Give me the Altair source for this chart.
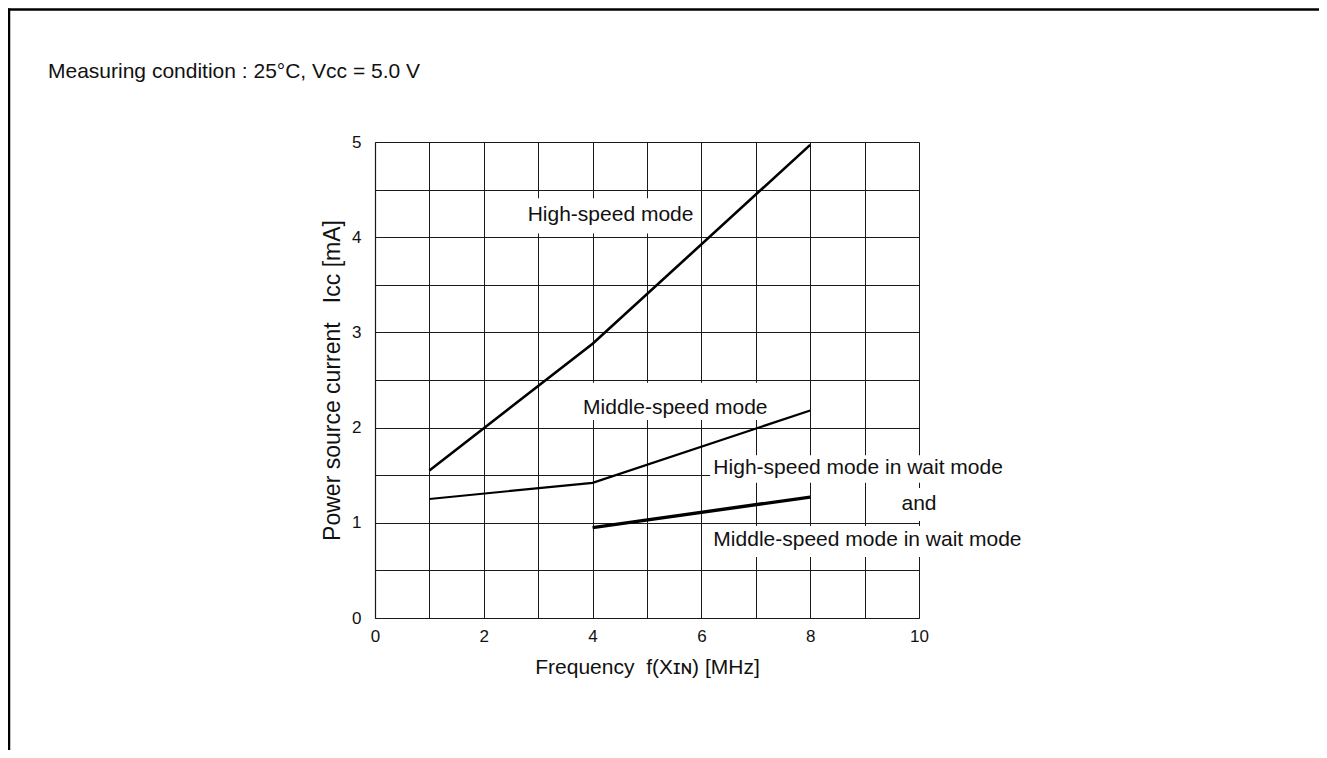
import altair as alt
import pandas as pd

# ---- data ----
hs_x = [1, 4, 8]
hs_y = [1.55, 2.88, 4.97]          # High-speed mode
ms_x = [1, 4, 8]
ms_y = [1.25, 1.42, 2.18]          # Middle-speed mode
wm_x = [4, 8]
wm_y = [0.95, 1.27]                # High/Middle-speed mode in wait mode

x_ticks = list(range(0, 11))
y_ticks = [i * 0.5 for i in range(11)]

label_text = ["High-speed mode", "Middle-speed mode", "High-speed mode in wait mode",
              "and", "Middle-speed mode in wait mode"]
label_x = [4.33, 5.52, 6.22, 10.0, 6.22]
label_y = [4.23, 2.21, 1.575, 1.20, 0.82]
label_align = ["center", "center", "left", "center", "left"]
# white boxes behind the labels (they interrupt the grid in the reference)
box_x1 = [2.76, 3.71, 6.16, 9.60, 6.16]
box_x2 = [5.92, 7.30, 11.67, 10.42, 12.04]
box_y1 = [4.41, 2.47, 1.71, 1.366, 0.966]
box_y2 = [4.04, 2.08, 1.42, 1.02, 0.64]

FONT = "Liberation Sans"
NB = "\u00a0"

lines_df = pd.concat([
    pd.DataFrame({"f": hs_x, "i": hs_y, "s": "High-speed mode"}),
    pd.DataFrame({"f": ms_x, "i": ms_y, "s": "Middle-speed mode"}),
    pd.DataFrame({"f": wm_x, "i": wm_y, "s": "Wait mode"}),
])
labels_df = pd.DataFrame({"t": label_text, "x": label_x, "y": label_y, "a": label_align})
boxes_df = pd.DataFrame({"x1": box_x1, "x2": box_x2, "y1": box_y1, "y2": box_y2})

xscale = alt.Scale(domain=[0, 10], nice=False, zero=False)
yscale = alt.Scale(domain=[0, 5], nice=False, zero=False)

xaxis = alt.Axis(values=x_ticks,
                 labelExpr="datum.value % 2 == 0 ? format(datum.value, 'd') : ''",
                 grid=True, gridColor="#1a1a1a", gridWidth=1, gridOpacity=1,
                 ticks=False, domain=True, domainColor="#1a1a1a", domainWidth=1.2,
                 labelFont=FONT, labelFontSize=17, labelColor="#111", labelPadding=10,
                 labelFlush=False, title="Frequency" + NB + NB + "f(Xɪɴ) [MHz]", titleFont=FONT,
                 titleFontSize=21, titleFontWeight="normal", titleColor="#111", titlePadding=12)
yaxis = alt.Axis(values=y_ticks,
                 labelExpr="datum.value % 1 == 0 ? format(datum.value, 'd') : ''",
                 grid=True, gridColor="#1a1a1a", gridWidth=1, gridOpacity=1,
                 ticks=False, domain=True, domainColor="#1a1a1a", domainWidth=1.2,
                 labelFont=FONT, labelFontSize=17, labelColor="#111", labelPadding=14,
                 labelFlush=False,
                 title="Power source current" + NB + NB + NB + "Icc [mA]", titleFont=FONT,
                 titleFontSize=23, titleFontWeight="normal", titleColor="#111", titlePadding=7)

base_lines = alt.Chart(lines_df)


def line_layer(series, width):
    return base_lines.transform_filter(alt.datum.s == series).mark_line(
        color="#000", strokeWidth=width, strokeCap="butt").encode(
        x=alt.X("f:Q", scale=xscale, axis=xaxis),
        y=alt.Y("i:Q", scale=yscale, axis=yaxis),
        order="f:Q",
    )


boxes = alt.Chart(boxes_df).mark_rect(color="white", opacity=1).encode(
    x=alt.X("x1:Q", scale=xscale, axis=xaxis), x2="x2:Q",
    y=alt.Y("y1:Q", scale=yscale, axis=yaxis), y2="y2:Q",
)

text_layers = []
for al in ["center", "left"]:
    text_layers.append(
        alt.Chart(labels_df).transform_filter(alt.datum.a == al).mark_text(
            font=FONT, fontSize=21, color="#111", align=al, baseline="middle").encode(
            x=alt.X("x:Q", scale=xscale, axis=xaxis),
            y=alt.Y("y:Q", scale=yscale, axis=yaxis),
            text="t:N",
        )
    )

dummy = alt.Data(values=[{"k": 1}])
title_txt = alt.Chart(dummy).mark_text(
    font=FONT, fontSize=21, color="#111", align="left", baseline="middle").encode(
    x=alt.value(-327), y=alt.value(-70), text=alt.value("Measuring condition : 25°C, Vcc = 5.0 V"))

frame_top = alt.Chart(dummy).mark_rule(color="#000", strokeWidth=2.5).encode(
    x=alt.value(-367), x2=alt.value(960), y=alt.value(-132.5))
frame_left = alt.Chart(dummy).mark_rule(color="#000", strokeWidth=2.5).encode(
    x=alt.value(-366), y=alt.value(-133.5), y2=alt.value(620))

chart = alt.layer(
    boxes,
    line_layer("Middle-speed mode", 2.2),
    line_layer("High-speed mode", 2.6),
    line_layer("Wait mode", 3.4),
    *text_layers,
    title_txt, frame_top, frame_left,
).properties(
    width=544, height=476,
    autosize=alt.AutoSizeParams(type="none"),
    padding={"left": 367, "top": 134, "right": 400, "bottom": 132},
).configure_view(stroke=None).configure(background="white")

chart.save("out.html", embed_options={"renderer": "svg", "actions": False})
